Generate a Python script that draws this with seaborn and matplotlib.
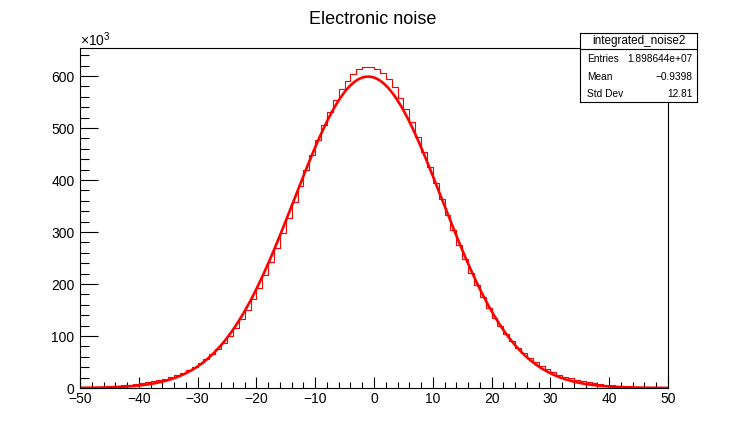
import numpy as np
import pandas as pd
import matplotlib
matplotlib.use("Agg")
import matplotlib.pyplot as plt
import seaborn as sns
from matplotlib.ticker import MultipleLocator

# ---------------- data ----------------
title = "Electronic noise"
hist_name = "integrated_noise2"
stat_labels = ["Entries", "Mean", "Std Dev"]
stat_values = ["1.898644e+07", "\u22120.9398", "12.81"]

bin_edges = list(range(-50, 51, 1))
# bin contents in units of 10^3 (bins -50..-49 up to 49..50)
counts_k = [
    1.17, 1.46, 1.82, 2.27, 2.79, 3.42, 4.18, 5.08, 6.16, 7.43,
    8.92, 10.7, 12.7, 15.2, 18.0, 21.3, 25.1, 29.6, 34.8, 40.8,
    47.7, 55.6, 64.8, 75.2, 86.9, 100.3, 115.1, 131.8, 150.3, 170.5,
    192.6, 216.5, 242.0, 269.2, 297.6, 327.0, 357.4, 388.0, 418.6, 448.7,
    477.8, 505.6, 531.1, 554.3, 574.4, 591.2, 604.2, 613.2, 617.9, 618.4,
    614.5, 606.3, 594.1, 578.1, 558.6, 536.0, 510.9, 483.5, 454.7, 424.7,
    394.2, 363.5, 333.0, 303.5, 274.8, 247.3, 221.5, 197.2, 174.9, 154.3,
    135.4, 118.4, 103.2, 89.5, 77.4, 66.7, 57.4, 49.2, 42.1, 35.9,
    30.6, 25.9, 22.0, 18.6, 15.7, 13.2, 11.1, 9.25, 7.70, 6.39,
    5.29, 4.35, 3.57, 2.90, 2.37, 1.91, 1.53, 1.22, 0.97, 0.77,
]
# Gaussian fit parameters (constant in 10^3, mean, sigma)
fit_constant_k = 599.0
fit_mean = -1.0
fit_sigma = 12.55

# ---------------- style ----------------
sns.set_style("white")
plt.rcParams["font.family"] = ["Liberation Sans", "DejaVu Sans"]
plt.rcParams["mathtext.fontset"] = "custom"
plt.rcParams["mathtext.rm"] = "Liberation Sans"
plt.rcParams["axes.unicode_minus"] = True
plt.rcParams["text.color"] = "black"
plt.rcParams["xtick.color"] = "black"
plt.rcParams["ytick.color"] = "black"
plt.rcParams["xtick.labelcolor"] = "black"
plt.rcParams["ytick.labelcolor"] = "black"

W, H = 737, 429
fig = plt.figure(figsize=(W / 100, H / 100), dpi=100)
fig.patch.set_facecolor("white")

ax_l, ax_r, ax_t, ax_b = 80, 668, 48, 388
ax = fig.add_axes([ax_l / W, 1 - ax_b / H, (ax_r - ax_l) / W, (ax_b - ax_t) / H])
ax.set_facecolor("white")

edges = np.array(bin_edges, dtype=float)
centers = (edges[:-1] + edges[1:]) / 2
df = pd.DataFrame({"x": centers, "w": np.array(counts_k, dtype=float)})
sns.histplot(data=df, x="x", weights="w", binwidth=1,
             binrange=(bin_edges[0], bin_edges[-1]), element="step",
             fill=False, color="#ff0000", linewidth=0.8, ax=ax)

xs = np.linspace(-50, 50, 800)
ys = fit_constant_k * np.exp(-0.5 * ((xs - fit_mean) / fit_sigma) ** 2)
fit_df = pd.DataFrame({"x": xs, "y": ys})
sns.lineplot(data=fit_df, x="x", y="y", color="#ff0000", linewidth=1.9, ax=ax)

ax.set_xlim(-50, 50)
ax.set_ylim(0, 654)
ax.set_xlabel("")
ax.set_ylabel("")

ax.xaxis.set_major_locator(MultipleLocator(10))
ax.xaxis.set_minor_locator(MultipleLocator(2))
ax.yaxis.set_major_locator(MultipleLocator(100))
ax.yaxis.set_minor_locator(MultipleLocator(20))
ax.tick_params(axis="both", which="both", bottom=True, left=True,
               top=False, right=False)
ax.tick_params(axis="x", which="major", direction="in", length=8, width=0.8,
               labelsize=10, pad=3, color="black", labelcolor="black")
ax.tick_params(axis="x", which="minor", direction="in", length=4, width=0.8,
               color="black")
ax.tick_params(axis="y", which="major", direction="in", length=13, width=0.8,
               labelsize=10, pad=4, color="black", labelcolor="black")
ax.tick_params(axis="y", which="minor", direction="in", length=6.5, width=0.8,
               color="black")
for s in ax.spines.values():
    s.set_color("black")
    s.set_linewidth(0.8)
ax.grid(False)

ax.text(0.0, 0.998, r"$\times10^{3}$", transform=ax.transAxes,
        ha="left", va="bottom", fontsize=10, color="black")

fig.text(373 / W, 1 - 19 / H, title, ha="center", va="center", fontsize=13,
         color="black")

# stats box
bx0, bx1, by0, by1 = 580, 697, 33, 102
box = fig.add_axes([bx0 / W, 1 - by1 / H, (bx1 - bx0) / W, (by1 - by0) / H])
box.set_xlim(0, 1)
box.set_ylim(0, 1)
box.set_xticks([])
box.set_yticks([])
box.set_facecolor("white")
for s in box.spines.values():
    s.set_color("black")
    s.set_linewidth(0.8)
sep = (by1 - 49) / (by1 - by0)
box.plot([0, 1], [sep, sep], color="black", lw=0.8)
box.text(0.5, (by1 - 41) / (by1 - by0), hist_name, ha="center", va="center",
         fontsize=8.5, color="black")
row_y = [59, 77, 94]
for lab, val, ry in zip(stat_labels, stat_values, row_y):
    yy = (by1 - ry) / (by1 - by0)
    box.text(0.06, yy, lab, ha="left", va="center", fontsize=7.3, color="black")
    box.text(0.96, yy, val, ha="right", va="center", fontsize=7.3, color="black")

fig.savefig("out.png", dpi=100)
